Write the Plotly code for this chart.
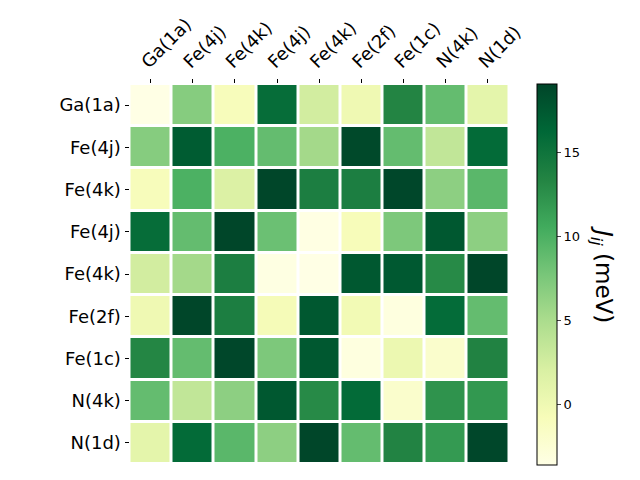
import plotly.graph_objects as go

labels = ["Ga(1a)", "Fe(4j)", "Fe(4k)", "Fe(4j)", "Fe(4k)", "Fe(2f)", "Fe(1c)", "N(4k)", "N(1d)"]

row_ga1a = [-3.6, 7.0, -0.9, 15.8, 2.5, 0.0, 13.4, 8.8, 1.0]
row_fe4j_a = [7.0, 17.2, 10.0, 8.8, 5.4, 18.8, 8.8, 3.6, 16.0]
row_fe4k_a = [-0.9, 10.0, 1.8, 19.0, 14.0, 14.0, 18.9, 6.6, 9.3]
row_fe4j_b = [15.8, 8.8, 19.0, 8.4, -3.5, -0.8, 7.5, 17.6, 6.6]
row_fe4k_b = [2.5, 5.4, 14.0, -3.4, -3.6, 17.6, 17.5, 13.0, 19.0]
row_fe2f = [0.0, 19.0, 14.0, -0.6, 17.6, -0.3, -3.2, 15.9, 8.8]
row_fe1c = [13.3, 8.8, 18.9, 7.5, 17.6, -3.2, 0.3, -2.0, 13.6]
row_n4k = [8.8, 3.6, 6.6, 17.6, 13.0, 16.0, -2.0, 12.3, 12.0]
row_n1d = [1.0, 16.0, 9.3, 6.6, 19.0, 8.8, 13.5, 11.8, 18.9]

z = [row_ga1a, row_fe4j_a, row_fe4k_a, row_fe4j_b, row_fe4k_b,
     row_fe2f, row_fe1c, row_n4k, row_n1d]
idx = list(range(len(labels)))

# the page body adds an 8px offset, so positions below are shifted by -8px
W, H = 640, 480

fig = go.Figure(go.Heatmap(
    z=z, x=idx, y=idx,
    colorscale="YlGn", zmin=-3.6, zmax=19.1,
    xgap=3, ygap=3,
    colorbar=dict(
        x=529 / W, xanchor="left", thickness=20, xpad=0, ypad=0,
        lenmode="pixels", len=381, y=1 - 266.5 / H, yanchor="middle",
        outlinecolor="black", outlinewidth=1,
        tickvals=[0, 5, 10, 15], ticks="outside", ticklen=4,
        tickfont=dict(size=13, color="black"),
    ),
))

fig.add_annotation(
    text="<i>J</i><sub><i>ij</i></sub> (meV)", textangle=90,
    x=594 / W, y=1 - 266 / H, xref="paper", yref="paper",
    xanchor="center", yanchor="middle",
    showarrow=False, font=dict(size=23, color="black"),
)

fig.update_xaxes(
    domain=[121.5 / W, 501 / W], side="top", automargin=False,
    tickvals=idx, ticktext=labels, tickangle=-45, ticklabelshift=-8,
    ticks="outside", ticklen=4, tickcolor="black",
    tickfont=dict(size=18, color="black"),
    showgrid=False, zeroline=False,
)
fig.update_yaxes(
    domain=[1 - 456 / H, 1 - 76 / H], autorange="reversed", automargin=False,
    tickvals=idx, ticktext=labels,
    ticks="outside", ticklen=4, tickcolor="black",
    tickfont=dict(size=18, color="black"),
    showgrid=False, zeroline=False,
)

fig.update_layout(
    width=W, height=H,
    margin=dict(l=0, r=0, t=0, b=0, autoexpand=False),
    plot_bgcolor="white", paper_bgcolor="white",
    font=dict(family="DejaVu Sans"),
)

fig.write_html("out.html")
